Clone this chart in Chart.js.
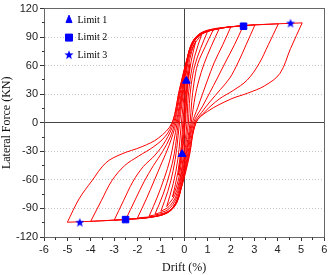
<!DOCTYPE html>
<html><head><meta charset="utf-8">
<script src="https://cdn.jsdelivr.net/npm/chart.js@4.4.1/dist/chart.umd.min.js"></script>
<style>html,body{margin:0;padding:0;background:#fff}#wrap{width:330px;height:275px;position:relative}</style>
</head><body><div id="wrap"><canvas id="c"></canvas></div>
<script>
// ---- data (drift %, lateral force kN) ----
const limit1 = [[0.09,44],[-0.09,-33]];
const limit2 = [[2.54,101.5],[-2.51,-101.7]];
const limit3 = [[4.55,104.3],[-4.47,-105]];

const loop025 = [[-0.25,-55],[-0.1,-25],[-0.02,0],[0.06,25],[0.15,47],[0.25,62],[0.12,35],[0.02,0],[-0.06,-22],[-0.15,-40],[-0.25,-55]];
const loop05 = [[-0.5,-78],[-0.27,-52],[-0.13,-25],[-0.06,0],[0.05,30],[0.16,56],[0.32,75],[0.5,86],[0.3,65],[0.14,35],[0.05,0],[-0.06,-28],[-0.18,-52],[-0.34,-68],[-0.5,-78]];
const loop075 = [[-0.75,-88],[-0.47,-64],[-0.27,-38],[-0.12,0],[0.02,35],[0.15,62],[0.37,80],[0.75,93],[0.45,70],[0.25,45],[0.15,20],[0.12,0],[-0.03,-33],[-0.17,-57],[-0.4,-76],[-0.75,-88]];
const loop1 = [[-1.0,-93],[-0.7,-72],[-0.47,-50],[-0.32,-27],[-0.2,0],[-0.02,35],[0.12,62],[0.3,80],[0.6,91],[1.0,96],[0.7,78],[0.45,60],[0.3,40],[0.22,20],[0.18,0],[0.0,-35],[-0.15,-58],[-0.35,-77],[-0.65,-88],[-1.0,-93]];
const loop125 = [[-1.25,-96],[-0.9,-75],[-0.62,-53],[-0.42,-32],[-0.25,0],[-0.05,35],[0.1,62],[0.28,80],[0.62,92],[1.25,98],[0.9,80],[0.58,62],[0.42,42],[0.32,22],[0.25,0],[0.04,-35],[-0.13,-60],[-0.33,-79],[-0.68,-91],[-1.25,-96]];
const loop15 = [[-1.5,-98],[-1.15,-78],[-0.85,-58],[-0.6,-38],[-0.45,-20],[-0.3,0],[-0.07,35],[0.1,62],[0.3,82],[0.65,93],[1.5,99],[1.15,80],[0.85,62],[0.62,44],[0.47,28],[0.38,14],[0.3,0],[0.07,-35],[-0.12,-62],[-0.32,-82],[-0.68,-93],[-1.5,-98]];
const loop2 = [[-2.0,-100],[-1.62,-80],[-1.27,-60],[-0.96,-42],[-0.65,-24],[-0.35,0],[-0.1,35],[0.1,64],[0.33,84],[0.68,94],[1.2,98.5],[2.0,101],[1.65,82],[1.28,63],[1.0,45],[0.78,30],[0.58,16],[0.35,0],[0.1,-35],[-0.1,-64],[-0.32,-84],[-0.68,-94],[-1.25,-98],[-2.0,-100]];
const loop25 = [[-2.5,-101.5],[-2.1,-81],[-1.72,-62],[-1.32,-45],[-0.92,-30],[-0.6,-15],[-0.4,0],[-0.14,35],[0.1,65],[0.36,85],[0.72,94],[1.4,99],[2.53,102],[2.15,82],[1.75,63],[1.4,46],[1.1,32],[0.8,18],[0.4,0],[0.14,-35],[-0.1,-65],[-0.34,-85],[-0.72,-94.5],[-1.4,-99],[-2.5,-101.5]];
const loop3 = [[-3.0,-102.5],[-2.6,-82],[-2.2,-62],[-1.75,-46],[-1.25,-34],[-0.8,-19],[-0.45,0],[-0.17,35],[0.1,65],[0.38,85],[0.75,94],[1.5,99],[2.2,101.5],[3.03,103],[2.65,82],[2.3,63],[1.95,47],[1.55,35],[1.1,22],[0.75,11],[0.45,0],[0.17,-35],[-0.1,-65],[-0.36,-85],[-0.75,-95],[-1.5,-99.5],[-2.2,-101],[-3.0,-102.5]];
const loop4 = [[-4.0,-103.5],[-3.55,-82],[-3.1,-61],[-2.55,-45],[-1.95,-35],[-1.3,-25],[-0.8,-14],[-0.5,0],[-0.2,35],[0.1,65],[0.4,85],[0.78,94],[1.5,99],[2.5,102],[4.03,104],[3.6,82],[3.2,62],[2.7,45],[2.1,34],[1.5,25],[0.9,12],[0.5,0],[0.2,-35],[-0.1,-65],[-0.38,-85],[-0.78,-95],[-1.5,-99.5],[-2.5,-101.5],[-4.0,-103.5]];
const loop5 = [[-5.0,-104.5],[-4.5,-80],[-3.95,-61],[-3.35,-42],[-2.7,-33],[-1.8,-25],[-1.1,-16],[-0.52,0],[-0.2,35],[0.12,65],[0.42,85],[0.8,94],[1.5,99],[2.5,102],[3.5,103.5],[5.05,105],[4.55,78],[4.1,52],[3.45,39],[2.7,31],[2.0,25],[1.0,12],[0.5,0],[0.22,-35],[-0.08,-65],[-0.38,-85],[-0.8,-95],[-1.5,-99.5],[-2.5,-101.5],[-3.5,-103],[-5.0,-104.5]];

const loops = [loop025, loop05, loop075, loop1, loop125, loop15, loop2, loop25, loop3, loop4, loop5];
const legendLabels = ['Limit 1', 'Limit 2', 'Limit 3'];
const xLabel = 'Drift (%)';
const yLabel = 'Lateral Force (KN)';

const RED = '#ff0000', BLUE = '#0000ff';
function makeStar(r) {
  const s = Math.ceil(2 * r + 2);
  const c = document.createElement('canvas'); c.width = s; c.height = s;
  const g = c.getContext('2d'); g.fillStyle = BLUE; g.beginPath();
  for (let i = 0; i < 10; i++) {
    const rad = i % 2 ? r * 0.42 : r; const a = -Math.PI / 2 + i * Math.PI / 5;
    g.lineTo(s / 2 + rad * Math.cos(a), s / 2 + rad * Math.sin(a));
  }
  g.closePath(); g.fill(); return c;
}
const star = makeStar(4.8);
const toXY = arr => arr.map(([x, y]) => ({x, y}));

const datasets = [
  {label: legendLabels[0], data: toXY(limit1), pointStyle: 'triangle', pointRadius: 4.5, backgroundColor: BLUE, borderColor: BLUE, borderWidth: 1, showLine: false, order: 0},
  {label: legendLabels[1], data: toXY(limit2), pointStyle: 'rect', pointRadius: 4.6, backgroundColor: BLUE, borderColor: BLUE, borderWidth: 1, showLine: false, order: 0},
  {label: legendLabels[2], data: toXY(limit3), pointStyle: star, pointRadius: 4.5, backgroundColor: BLUE, borderColor: BLUE, borderWidth: 0, showLine: false, order: 0}
];
loops.forEach(lp => {
  let k = 0;
  lp.forEach((p, i) => { if (p[1] > lp[k][1]) k = i; });
  [lp.slice(0, k + 1), lp.slice(k)].forEach(seg => datasets.push({
    label: '', data: toXY(seg), showLine: true, borderColor: RED, backgroundColor: RED,
    borderWidth: 1, pointRadius: 0, pointHoverRadius: 0, tension: 0.35, fill: false, order: 1
  }));
});

const px = v => Math.floor(v) + 0.5;
const framePlugin = {
  id: 'frame',
  afterLayout(chart) {
    const lg = chart.legend, ca = chart.chartArea;
    if (lg) { lg.left = ca.left + 14; lg.top = ca.top - 1; lg.right = ca.right; lg.bottom = ca.bottom; }
  },
  beforeDatasetsDraw(chart) {
    const {ctx, chartArea: {left, right, top, bottom}, scales: {x, y}} = chart;
    ctx.save();
    ctx.strokeStyle = '#444'; ctx.lineWidth = 1;
    ctx.beginPath();
    const x0 = px(x.getPixelForValue(0)), y0 = px(y.getPixelForValue(0));
    ctx.moveTo(px(left), y0); ctx.lineTo(px(right), y0);
    ctx.moveTo(x0, px(top)); ctx.lineTo(x0, px(bottom));
    ctx.stroke();
    ctx.strokeStyle = '#666';
    ctx.strokeRect(px(left), px(top), px(right) - px(left), px(bottom) - px(top));
    ctx.strokeStyle = '#333';
    ctx.beginPath();
    for (let v = -5.5; v < 6; v += 1) { const p = px(x.getPixelForValue(v)); ctx.moveTo(p, px(bottom)); ctx.lineTo(p, px(bottom) + 2.5); }
    for (let v = -105; v < 120; v += 30) { const p = px(y.getPixelForValue(v)); ctx.moveTo(px(left), p); ctx.lineTo(px(left) - 2.5, p); }
    ctx.stroke();
    ctx.restore();
  }
};

const SANS = "'Liberation Sans', Arial, sans-serif";
const SERIF = "'Liberation Serif', 'Times New Roman', serif";
new Chart(document.getElementById('c'), {
  type: 'scatter',
  data: {datasets},
  options: {
    responsive: true, maintainAspectRatio: false, animation: false,
    layout: {padding: {top: 0, right: 4, left: 0, bottom: 0}},
    plugins: {
      legend: {
        position: 'chartArea', align: 'start',
        labels: {
          filter: item => legendLabels.includes(item.text),
          usePointStyle: true, boxHeight: 7, pointStyleWidth: 7, padding: 7.5,
          color: '#000', font: {family: SERIF, size: 10}
        }
      },
      tooltip: {enabled: false}
    },
    scales: {
      x: {
        type: 'linear', min: -6, max: 6,
        ticks: {stepSize: 1, color: '#222', font: {family: SANS, size: 11}, padding: 2},
        grid: {drawOnChartArea: false, drawTicks: true, tickLength: 4, tickColor: '#333'},
        border: {display: true, color: '#333'},
        title: {display: true, text: xLabel, color: '#111', font: {family: SERIF, size: 12}, padding: {top: 6, bottom: 0}},
        afterFit: s => { s.height = 38; }
      },
      y: {
        type: 'linear', min: -120, max: 120,
        ticks: {stepSize: 30, color: '#222', font: {family: SANS, size: 11}, padding: 2},
        grid: {
          color: c => (c.tick && (c.tick.value === 0 || Math.abs(c.tick.value) === 120)) ? 'rgba(0,0,0,0)' : '#c4c4c4',
          drawTicks: true, tickLength: 4, tickColor: '#333'
        },
        border: {display: true, color: '#333', dash: [1, 2]},
        title: {display: true, text: yLabel, color: '#111', font: {family: SERIF, size: 12}, padding: {top: 0, bottom: 2}},
        afterFit: s => { s.width = 44; }
      }
    }
  },
  plugins: [framePlugin]
});
</script>
</body></html>
